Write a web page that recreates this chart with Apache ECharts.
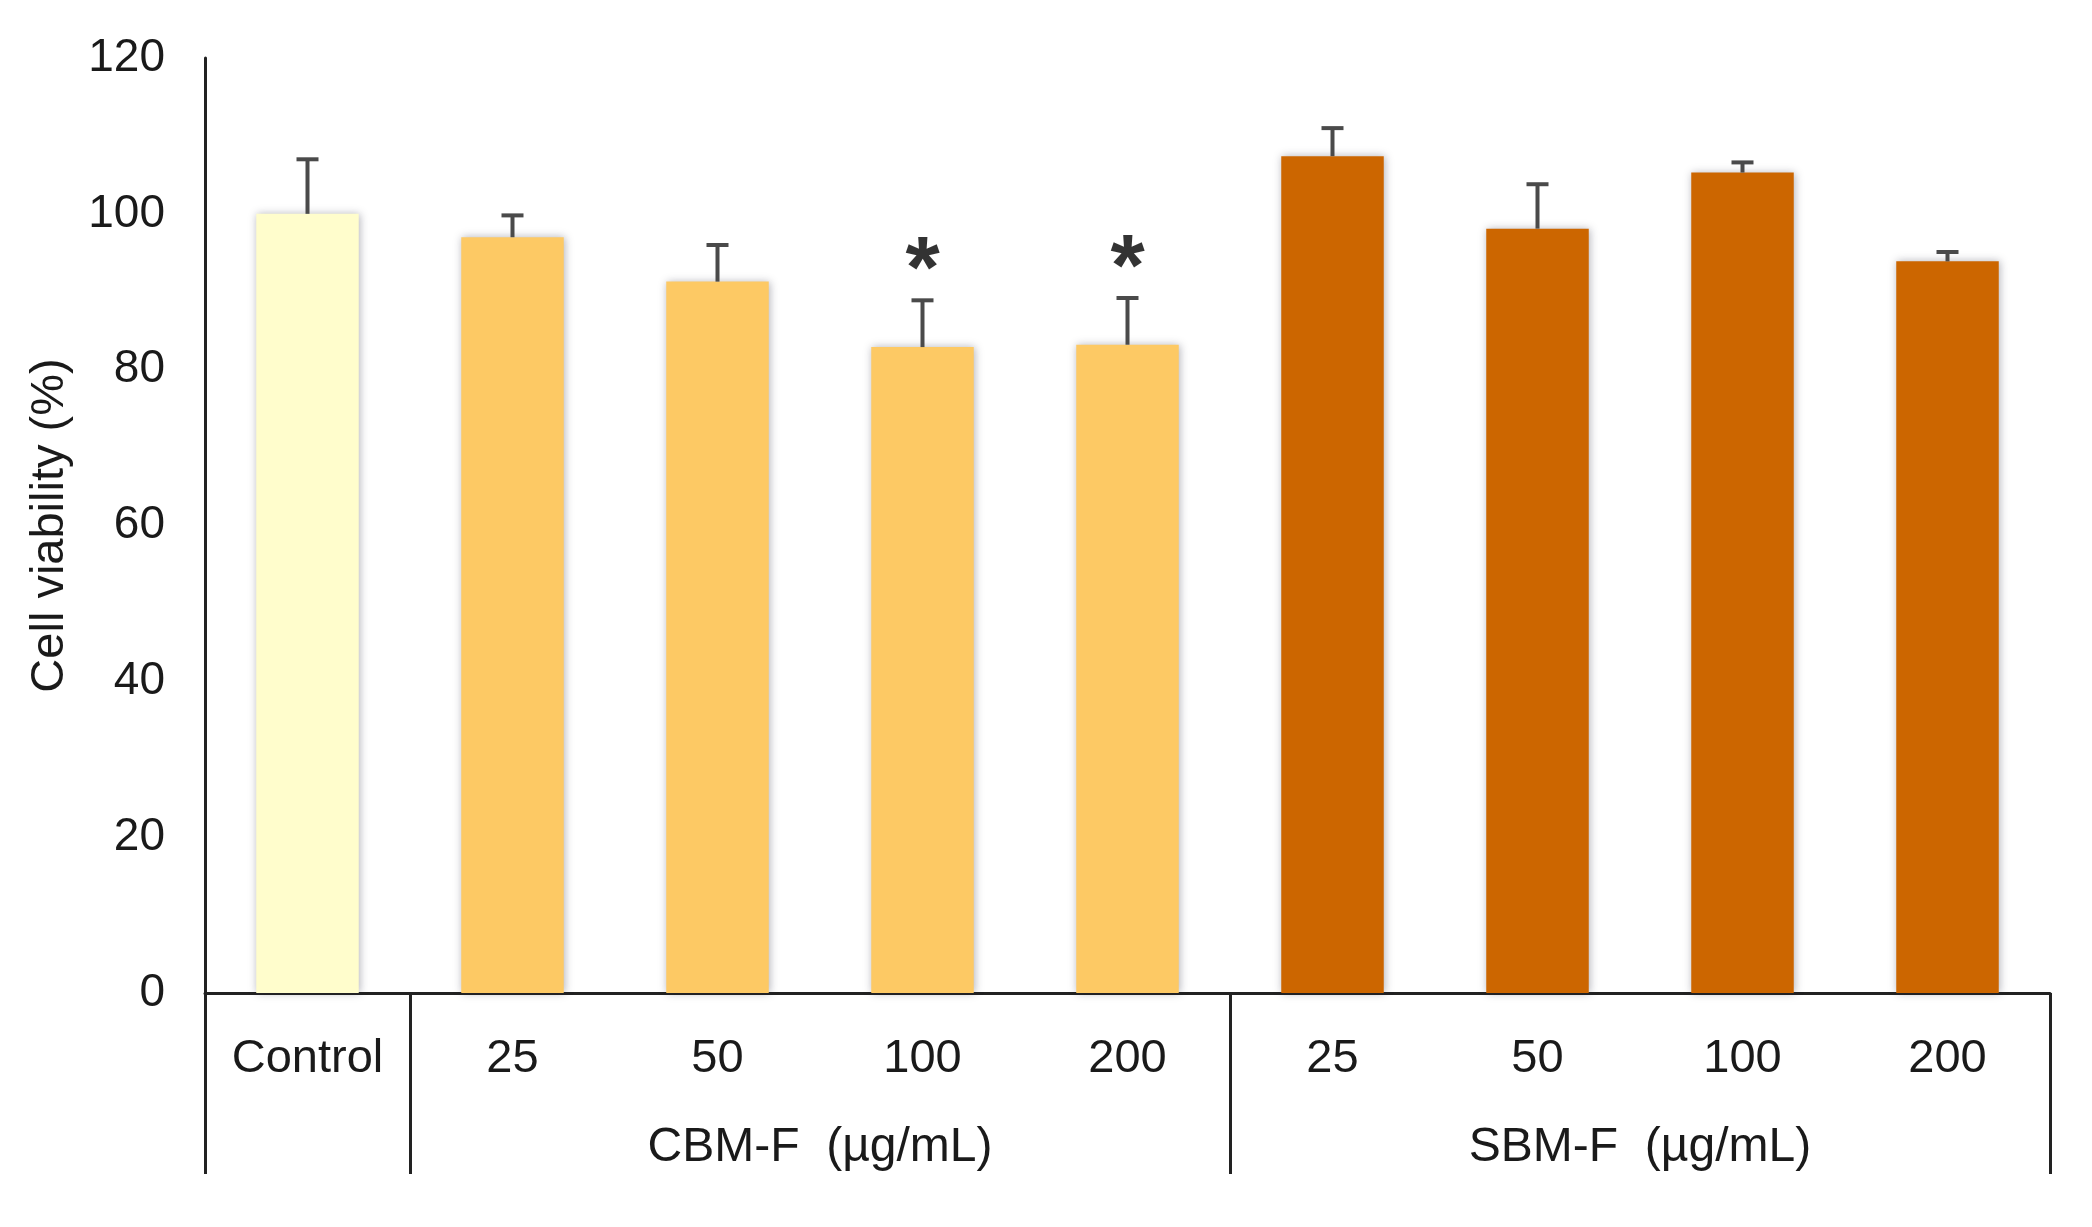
<!DOCTYPE html>
<html>
<head>
<meta charset="utf-8">
<script src="https://cdn.jsdelivr.net/npm/echarts@6/dist/echarts.min.js"></script>
<style>
html,body{margin:0;padding:0;background:#fff;}
#chart{width:2092px;height:1227px;}
</style>
</head>
<body>
<div id="chart"></div>
<script>
const categories = ['Control','CBM-F 25','CBM-F 50','CBM-F 100','CBM-F 200','SBM-F 25','SBM-F 50','SBM-F 100','SBM-F 200'];
const tickLabels = ['Control','25','50','100','200','25','50','100','200'];
const viability = [100.0, 97.0, 91.3, 82.9, 83.2, 107.4, 98.1, 105.3, 93.9];
const sd = [7.0, 2.8, 4.7, 6.0, 6.0, 3.6, 5.7, 1.3, 1.2];
const significance = ['', '', '', '*', '*', '', '', '', ''];
const groupNames = ['CBM-F  (µg/mL)', 'SBM-F  (µg/mL)'];
const groupStarts = [1, 5];
const groupSizes = [4, 4];
const barGroup = [0, 1, 1, 1, 1, 2, 2, 2, 2];
const groupColors = ['#FFFDCC', '#FDC964', '#CC6600'];
const yTicks = {min: 0, max: 120, interval: 20};

const FONT = '"Liberation Sans", Arial, Helvetica, sans-serif';
const TXT = '#1a1a1a';

const chart = echarts.init(document.getElementById('chart'));

const groupLabelAt = {};
groupStarts.forEach((s, g) => { groupLabelAt[s + groupSizes[g] / 2] = groupNames[g]; });

const option = {
  backgroundColor: '#fff',
  animation: false,
  grid: {left: 205, right: 42, top: 58, bottom: 234, containLabel: false},
  xAxis: [
    {
      type: 'category',
      data: categories,
      position: 'bottom',
      boundaryGap: true,
      axisLine: {show: true, lineStyle: {color: '#222', width: 3}},
      axisTick: {
        show: true,
        length: 181,
        lineStyle: {color: '#222', width: 3},
        interval: function (idx) { return idx === 0 || groupStarts.indexOf(idx) >= 0; }
      },
      axisLabel: {
        interval: 0,
        margin: 43,
        fontSize: 47,
        fontFamily: FONT,
        color: TXT,
        formatter: function (v, idx) { return tickLabels[idx]; }
      },
      splitLine: {show: false}
    },
    {
      type: 'value',
      min: 0,
      max: categories.length,
      interval: 1,
      position: 'bottom',
      axisLine: {show: false},
      axisTick: {show: false},
      splitLine: {show: false},
      axisLabel: {
        margin: 131,
        fontSize: 48,
        fontFamily: FONT,
        color: TXT,
        showMinLabel: true,
        showMaxLabel: true,
        formatter: function (v) { return groupLabelAt[v] || ''; }
      }
    }
  ],
  yAxis: {
    type: 'value',
    min: yTicks.min,
    max: yTicks.max,
    interval: yTicks.interval,
    name: 'Cell viability (%)',
    nameLocation: 'middle',
    nameRotate: 90,
    nameGap: 131,
    nameTextStyle: {fontSize: 47, fontFamily: FONT, color: TXT},
    axisLine: {show: true, lineStyle: {color: '#222', width: 3}},
    axisTick: {show: false},
    splitLine: {show: false},
    axisLabel: {margin: 40, fontSize: 46, fontFamily: FONT, color: TXT, padding: [16, 0, 0, 0]}
  },
  series: [
    {
      type: 'bar',
      xAxisIndex: 0,
      barWidth: '50%',
      data: viability.map((v, i) => ({
        value: v,
        itemStyle: {
          color: groupColors[barGroup[i]],
          shadowBlur: 8,
          shadowColor: 'rgba(40,40,60,0.35)',
          shadowOffsetX: 1
        }
      })),
      z: 2
    },
    {
      type: 'custom',
      xAxisIndex: 0,
      z: 3,
      data: viability.map((v, i) => [i, v, sd[i]]),
      renderItem: function (params, api) {
        const i = api.value(0), m = api.value(1), e = api.value(2);
        const top = api.coord([i, m + e]);
        const base = api.coord([i, m]);
        const half = 11;
        const st = {stroke: '#4a4a4a', lineWidth: 4};
        return {
          type: 'group',
          children: [
            {type: 'line', shape: {x1: top[0], y1: top[1], x2: base[0], y2: base[1]}, style: st},
            {type: 'line', shape: {x1: top[0] - half, y1: top[1], x2: top[0] + half, y2: top[1]}, style: st}
          ]
        };
      }
    },
    {
      type: 'scatter',
      xAxisIndex: 0,
      symbolSize: 1,
      itemStyle: {color: 'rgba(0,0,0,0)'},
      z: 4,
      data: viability.map((v, i) => ({
        value: v + sd[i],
        label: {
          show: significance[i] !== '',
          formatter: significance[i],
          position: 'top',
          distance: -17,
          fontSize: 88,
          fontWeight: 'bold',
          fontFamily: FONT,
          color: '#000'
        }
      }))
    }
  ]
};
chart.setOption(option);
</script>
</body>
</html>
